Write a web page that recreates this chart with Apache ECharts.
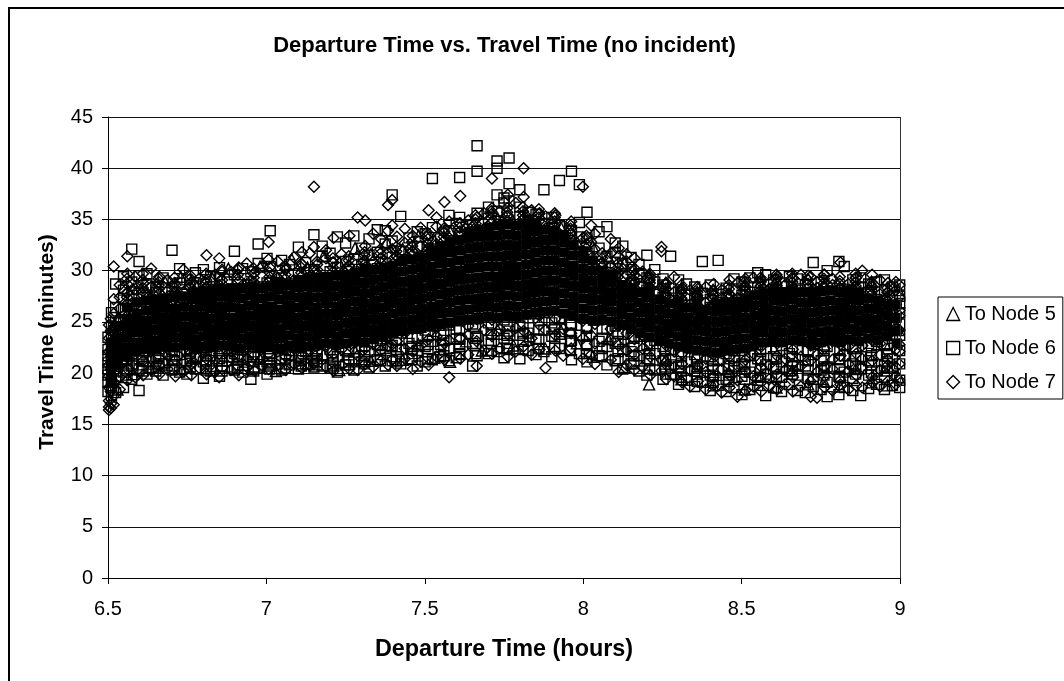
<!DOCTYPE html>
<html><head><meta charset="utf-8">
<script src="https://cdn.jsdelivr.net/npm/echarts@6/dist/echarts.min.js"></script>
<style>html,body{margin:0;padding:0;background:#fff;overflow:hidden}#c{width:1064px;height:681px}</style>
</head><body><div id="c"></div>
<script>
const seriesNames = ["To Node 5","To Node 6","To Node 7"];
const xTicks = {min:6.5,max:9,step:0.5};
const yTicks = {min:0,max:45,step:5};
// columns: [departure hour, [travel minutes]]
const node5 = [
[6.53,[18.4,21.2,23.6,25.3]],[6.58,[19.9,22.7,26.1,28.2]],[6.63,[20.6,24.4,27.3]],[6.68,[21.1,25.8,28.9]],[6.73,[20.4,23.3,29.4]],
[6.78,[21.7,26.2,28.4]],[6.83,[20.7,24.9,29.2]],[6.88,[22.3,27.1,30.2]],[6.93,[20.8,25.4,28.7]],[6.98,[21.4,26.8,30.4]],
[7.03,[20.2,24.3,29.6]],[7.08,[22.6,27.7,31.1]],[7.13,[20.9,25.2,30.3]],[7.18,[21.8,28.1,31.4]],[7.23,[20.3,26.4,30.8]],
[7.28,[22.1,28.6,32.2]],[7.33,[21.2,25.7,31.6]],[7.38,[23.4,29.2,32.8]],[7.43,[21.3,27.4,32.1]],[7.48,[22.8,30.3,33.4]],
[7.53,[21.5,28.2,32.9]],[7.58,[21.1,29.7,33.8]],[7.63,[23.1,30.9,34.4]],[7.68,[22.2,28.8,33.6]],[7.73,[24.2,31.6,35.1]],
[7.78,[22.7,29.4,34.7]],[7.83,[23.6,31.2,34.9]],[7.88,[22.4,28.3,33.7]],[7.93,[24.1,30.6,34.2]],[7.98,[22.9,27.9,32.8]],
[8.03,[21.6,28.7,32.4]],[8.08,[23.3,26.4,31.3]],[8.13,[20.6,27.2,30.7]],[8.208,[18.9,24.6,29.4]],[8.26,[21.3,26.2,28.8]],
[8.31,[19.4,24.1,28.3]],[8.36,[20.7,25.4,27.9]],[8.41,[18.8,23.2,28.1]],[8.46,[20.1,24.7,27.6]],[8.51,[18.4,22.9,28.7]],
[8.56,[19.7,25.1,28.9]],[8.61,[18.6,23.8,29.1]],[8.66,[20.3,24.4,28.2]],[8.71,[18.9,26.3,29.2]],[8.76,[19.2,22.8,28.6]],
[8.81,[18.7,24.9,28.4]],[8.86,[20.4,23.7,27.8]],[8.91,[19.1,25.3,28.9]],[8.96,[18.8,22.4,27.4]],[8.995,[19.6,24.2,28.1]]
];
const node6 = [
[6.500,[18.2,19.1,20.4,21.7,22.3,23.5,19.8,21.0]],
[6.511,[17.8,19.4,20.9,22.1,23.8,24.6,25.9,21.5,18.6]],
[6.524,[18.1,19.7,21.3,22.7,24.2,25.1,26.4,28.7,20.2,23.3]],
[6.549,[18.6,20.1,21.2,22.6,23.7,24.9,26.2,27.3,28.1,29.4]],
[6.575,[19.4,20.7,21.9,22.8,24.1,25.2,26.1,27.6,28.9,32.1]],
[6.598,[18.3,20.3,21.4,23.2,24.5,25.3,26.7,27.8,29.5,30.9]],
[6.623,[19.9,21.1,22.4,23.6,24.2,25.6,26.3,27.4,28.6,29.7]],
[6.651,[20.2,21.6,22.2,23.3,24.7,25.1,26.2,27.9,28.4]],
[6.674,[19.8,20.9,22.7,23.9,24.3,25.5,26.8,27.2,29.3]],
[6.702,[20.3,21.3,22.1,23.4,24.6,25.2,26.1,27.5,28.3,32.0]],
[6.726,[20.1,21.8,22.9,23.7,24.1,25.7,26.4,27.1,28.8,30.2]],
[6.749,[19.9,21.2,22.3,23.2,24.8,25.3,26.6,27.7,29.1]],
[6.776,[20.4,21.5,22.6,23.8,24.2,25.4,26.9,27.3,28.5,29.8]],
[6.801,[19.5,21.1,22.5,23.1,24.7,25.9,26.2,27.6,28.7,30.1]],
[6.824,[20.2,21.7,22.2,23.6,24.4,25.1,26.5,27.9,29.4]],
[6.852,[19.7,21.4,22.8,23.3,24.9,25.6,26.3,28.1,29.2,30.3]],
[6.876,[20.6,21.2,22.4,23.9,24.5,25.2,26.7,27.4,28.9]],
[6.899,[20.3,21.9,22.7,23.5,24.3,25.8,26.1,27.8,29.6,31.9]],
[6.925,[20.1,21.3,22.3,23.7,24.6,25.4,26.8,28.2,30.2]],
[6.951,[19.4,21.6,22.9,23.2,24.1,25.7,26.4,27.3,28.6,29.9]],
[6.974,[20.5,21.8,22.5,23.8,24.8,25.3,26.9,28.4,30.7,32.6]],
[7.002,[19.9,21.1,22.6,23.4,24.4,25.9,26.2,27.6,28.8,31.2]],
[7.012,[20.7,21.9,23.1,24.7,25.5,26.6,27.2,28.3,30.4,33.9]],
[7.048,[20.3,21.4,22.8,23.6,24.9,25.1,26.7,27.9,29.3,31.0]],
[7.073,[20.8,21.7,22.2,23.9,24.2,25.6,26.3,27.4,28.7,30.6]],
[7.101,[20.4,21.5,23.2,24.5,25.8,26.9,27.1,28.1,29.7,32.3]],
[7.124,[20.9,22.1,23.3,24.3,25.2,26.5,27.7,28.9,30.8]],
[7.150,[20.6,21.2,22.7,23.8,24.6,25.4,26.8,27.3,28.5,30.1,33.5]],
[7.176,[20.7,21.8,23.4,24.1,25.7,26.2,27.6,29.2,31.4,32.4]],
[7.201,[20.5,22.3,23.6,24.8,25.3,26.6,27.8,28.4,29.9,31.7]],
[7.224,[20.1,21.6,22.9,24.4,25.9,26.1,27.2,28.8,30.3,33.3]],
[7.250,[20.8,22.2,23.1,24.2,25.5,26.7,27.5,28.6,30.9,32.7]],
[7.276,[20.3,21.4,23.7,24.9,25.1,26.4,27.9,29.4,31.1,33.4]],
[7.301,[21.1,22.6,23.3,24.7,25.6,26.8,28.2,29.7,30.6,32.2]],
[7.324,[20.6,22.1,23.8,24.5,25.4,27.1,28.3,29.1,31.5,33.1]],
[7.350,[21.3,22.8,24.1,25.2,26.3,27.6,28.7,30.2,31.8,34.0]],
[7.375,[20.7,22.4,23.6,24.6,25.8,26.9,28.1,29.5,30.7,32.6,33.9]],
[7.397,[21.2,22.7,24.3,25.3,26.2,27.4,28.8,29.8,31.3,32.9,37.4]],
[7.424,[20.9,22.3,23.9,25.1,26.6,27.8,29.2,30.1,31.9,35.3]],
[7.450,[21.4,22.9,24.4,25.7,26.4,27.2,28.6,30.4,31.6,33.2]],
[7.476,[20.7,22.2,23.4,24.8,25.9,27.3,28.4,29.6,30.8,32.3,33.8]],
[7.501,[21.1,22.6,24.2,25.4,26.7,27.7,29.1,30.3,31.4,33.6]],
[7.524,[21.3,23.1,24.6,25.6,26.1,28.2,29.4,30.9,32.1,34.2,39.0]],
[7.550,[21.6,22.8,23.7,25.2,26.8,27.9,28.9,30.6,31.7,33.1]],
[7.576,[21.2,22.4,24.7,25.8,27.1,28.3,29.7,31.2,32.4,33.9,35.4]],
[7.599,[21.5,23.3,24.3,26.2,27.6,28.7,29.9,30.7,32.6,34.6]],
[7.610,[21.8,23.4,25.1,26.6,27.4,29.3,30.2,31.6,33.3,35.2,39.1]],
[7.651,[20.7,22.9,24.8,26.1,27.8,28.6,30.4,31.1,32.8,34.4]],
[7.665,[21.7,23.6,25.3,26.9,28.1,29.6,30.8,32.2,33.7,35.6,39.7,42.2]],
[7.701,[21.9,23.2,24.9,26.4,27.7,29.2,30.1,31.8,33.4,35.1,36.2]],
[7.728,[22.1,23.8,25.6,27.2,28.4,29.8,31.3,32.7,34.1,35.8,37.4,40.0,40.7]],
[7.750,[21.5,23.4,25.2,26.7,28.8,30.3,31.9,33.2,34.7,36.6,37.1]],
[7.766,[22.3,24.1,25.7,27.4,28.9,30.6,31.4,32.9,34.3,36.8,38.5,41.0]],
[7.800,[21.4,23.7,24.6,26.3,28.2,29.7,31.2,32.4,33.8,35.3,36.2,37.9]],
[7.826,[22.2,23.9,25.4,27.1,28.6,30.1,31.7,33.6,34.9,35.7]],
[7.851,[21.8,23.3,25.8,26.8,28.3,29.4,30.9,32.3,34.2,35.5]],
[7.876,[22.1,24.2,25.9,27.6,29.1,30.7,32.1,33.4,34.6,37.9]],
[7.901,[21.6,23.6,24.9,26.5,28.7,29.9,31.4,32.8,34.1,35.2]],
[7.925,[22.4,23.8,25.3,27.3,28.4,30.2,31.6,33.1,34.4,38.8]],
[7.963,[21.3,23.2,24.7,26.9,28.1,29.6,30.8,32.6,33.9,39.7]],
[7.988,[21.9,23.7,25.6,27.7,29.3,30.4,31.9,33.3,34.7,38.4]],
[8.012,[21.1,22.8,24.4,26.2,27.9,29.2,30.3,31.7,33.2,35.7]],
[8.050,[21.7,23.1,25.2,26.6,27.4,28.9,30.6,32.2,33.8]],
[8.075,[20.8,22.6,24.3,25.8,27.2,28.6,29.8,31.4,34.3]],
[8.101,[21.2,22.9,24.6,26.4,27.8,29.1,30.2,31.8,32.7]],
[8.125,[20.4,22.3,23.8,25.1,26.7,28.2,29.4,30.7,32.4]],
[8.151,[20.9,22.1,23.4,25.6,26.3,27.6,28.8,30.1,31.3]],
[8.176,[20.2,21.7,23.6,24.8,26.2,27.3,28.4,29.7,30.6]],
[8.201,[19.8,21.4,22.8,24.2,25.4,26.9,28.1,29.3,31.5]],
[8.226,[20.3,21.9,23.2,24.7,25.9,26.4,27.7,28.9,30.1]],
[8.252,[19.4,21.2,22.6,23.9,25.3,26.7,27.4,28.6,29.2]],
[8.276,[19.9,20.8,22.3,24.4,25.1,26.2,27.1,28.3,31.4]],
[8.301,[18.9,20.6,22.1,23.7,24.8,25.6,26.8,27.9,29.1]],
[8.326,[19.3,21.1,22.7,23.4,24.6,25.9,26.3,27.6,28.7]],
[8.352,[18.7,20.2,21.8,23.1,24.3,25.2,26.6,27.3,28.4]],
[8.376,[19.1,20.7,22.4,23.6,24.9,25.7,26.1,27.8,30.9]],
[8.401,[18.3,19.8,21.6,22.9,24.1,25.4,26.4,27.2,28.6]],
[8.426,[18.8,20.3,21.3,23.3,24.7,25.1,26.9,27.7,31.0]],
[8.451,[18.2,19.4,21.9,22.6,24.4,25.8,26.2,27.4,28.3]],
[8.476,[18.6,20.6,21.2,23.8,24.2,25.3,26.7,28.1,29.2]],
[8.501,[17.9,19.7,20.9,22.2,23.9,24.8,26.3,27.6,28.9]],
[8.526,[18.4,20.1,21.7,23.2,24.6,25.6,26.1,27.9,29.3]],
[8.551,[18.8,19.3,21.4,22.8,23.7,25.2,26.5,27.2,28.4,29.8]],
[8.576,[17.8,19.9,20.8,22.4,24.3,25.9,26.8,27.7,29.6]],
[8.601,[18.6,20.4,21.6,23.1,24.9,25.4,26.2,28.2,29.1]],
[8.626,[18.2,19.6,21.1,22.7,23.6,25.1,26.6,27.3,28.8]],
[8.651,[18.9,20.2,21.9,23.4,24.5,25.7,26.9,27.8,29.4]],
[8.676,[18.3,19.8,20.7,22.3,24.1,25.3,26.4,28.1,29.2]],
[8.701,[18.1,20.7,21.3,23.7,24.8,25.8,26.3,27.4,28.6]],
[8.726,[18.7,19.4,21.8,22.9,24.2,25.5,26.7,27.9,30.8]],
[8.751,[18.4,20.3,21.2,23.3,24.6,25.2,26.1,27.6,28.9]],
[8.770,[17.7,19.1,20.6,22.6,23.9,25.6,26.8,28.3,30.0]],
[8.807,[17.9,19.7,21.4,23.2,24.4,25.9,26.5,27.3,30.9]],
[8.824,[18.6,20.1,21.7,22.8,24.7,25.3,26.2,28.2,30.4]],
[8.851,[18.3,19.5,20.9,22.4,23.8,25.1,26.9,27.7,29.1]],
[8.876,[17.8,20.4,21.6,23.6,24.3,25.7,26.4,28.4,29.3]],
[8.901,[18.5,19.8,21.2,22.9,24.9,25.4,26.6,27.9,28.7]],
[8.926,[18.9,20.2,21.8,23.1,24.2,25.8,26.1,27.2,28.9]],
[8.951,[18.4,19.6,20.7,22.7,23.9,25.2,26.7,28.1,29.1]],
[8.976,[18.8,20.6,21.4,23.4,24.6,25.6,26.3,27.6,28.4]],
[8.999,[18.6,19.3,20.9,22.2,23.7,24.8,25.9,26.8,27.5,28.6]]
];
const node7 = [
[6.503,[16.4,16.7,17.3,18.6,19.7,20.8,22.1,23.4,24.7]],
[6.509,[16.6,17.0,18.2,19.4,20.3,21.6,22.9,24.1,25.3]],
[6.518,[16.9,17.8,19.1,20.6,21.8,23.2,24.5,25.8,27.2,30.4]],
[6.537,[18.4,19.6,20.7,22.3,23.6,25.1,26.3,27.4,28.6]],
[6.561,[19.3,20.4,21.5,22.7,24.2,25.6,26.8,27.9,29.7,31.4]],
[6.586,[19.6,20.9,22.2,23.3,24.8,25.4,26.6,28.2,29.4]],
[6.611,[19.8,21.2,22.6,23.9,24.3,25.7,26.9,27.6,28.8]],
[6.636,[20.3,21.4,22.1,23.5,24.6,25.9,26.2,27.3,28.4,30.2]],
[6.662,[19.9,20.8,22.8,23.2,24.9,25.3,26.4,27.8,29.4]],
[6.688,[20.4,21.7,22.4,23.7,24.1,25.6,26.7,28.1,29.1]],
[6.713,[19.7,21.3,22.9,23.6,24.5,25.2,26.3,27.4,28.6]],
[6.738,[20.2,21.1,22.3,23.4,24.7,25.8,26.6,27.9,30.1]],
[6.763,[19.8,20.9,22.7,23.9,24.2,25.4,26.8,27.2,28.9]],
[6.788,[20.5,21.6,22.5,23.1,24.8,25.7,26.1,27.7,29.2]],
[6.811,[19.9,21.4,22.2,23.8,24.3,25.1,26.5,28.3,31.5]],
[6.838,[20.1,21.2,22.8,23.4,24.9,25.6,26.9,27.4,29.6]],
[6.851,[19.6,21.9,22.6,23.3,24.4,25.3,26.2,28.6,31.2]],
[6.888,[20.3,21.5,22.1,23.7,24.6,25.9,26.7,27.8,29.9]],
[6.913,[19.8,21.7,22.9,23.2,24.7,25.4,26.3,28.2,30.3]],
[6.938,[20.6,21.3,22.4,23.9,24.2,25.8,27.1,28.7,30.7]],
[6.963,[20.2,21.8,23.1,24.5,25.2,26.6,27.3,28.4,29.8]],
[6.988,[20.7,21.4,22.7,23.6,24.9,25.1,26.8,27.9,30.4]],
[7.007,[20.4,21.9,23.2,24.3,25.6,26.4,27.6,28.9,31.1,32.8]],
[7.036,[20.8,22.1,23.4,24.8,25.3,26.7,28.1,29.3,30.9]],
[7.061,[20.3,21.6,22.8,24.1,25.9,26.2,27.4,28.6,30.2]],
[7.087,[20.9,22.4,23.7,24.6,25.1,26.9,27.8,29.1,31.3]],
[7.112,[20.5,21.7,23.3,24.2,25.7,26.4,27.2,28.7,30.6,31.8]],
[7.137,[20.7,22.2,23.6,24.9,25.4,26.6,28.3,29.4,31.7]],
[7.150,[20.9,21.8,23.1,24.7,25.8,27.1,28.8,30.1,32.3,38.2]],
[7.188,[20.6,22.6,23.9,24.3,25.6,26.8,27.6,29.2,31.2,32.0]],
[7.212,[20.2,21.9,23.4,24.8,25.3,26.3,27.9,28.9,30.8,33.2]],
[7.237,[20.8,22.3,23.8,24.4,25.9,27.2,28.4,29.7,31.6]],
[7.262,[20.4,22.7,24.1,25.2,26.6,27.7,28.6,30.4,33.4]],
[7.288,[20.3,21.7,23.2,24.7,25.7,26.9,28.2,29.9,31.4,35.2]],
[7.312,[20.9,22.4,23.9,24.6,26.1,27.3,28.8,30.3,32.4,34.9]],
[7.337,[20.6,22.9,24.2,25.4,26.4,27.8,29.3,30.9,33.6]],
[7.362,[21.2,22.2,23.7,25.1,26.7,28.4,29.6,31.2,33.1]],
[7.384,[20.8,22.6,24.4,25.8,27.1,28.1,29.9,31.7,33.9,36.4]],
[7.397,[21.3,22.8,24.6,25.6,26.9,28.6,30.2,32.1,34.4,36.9]],
[7.412,[20.7,23.1,24.8,26.2,27.6,28.9,30.6,31.4,33.3]],
[7.437,[21.4,22.4,23.9,25.3,26.8,28.3,29.4,31.1,32.7,34.1]],
[7.462,[20.4,22.1,24.3,25.9,27.4,28.7,30.1,31.9,33.4]],
[7.487,[21.1,22.7,24.7,26.3,27.2,29.2,30.7,32.4,34.2]],
[7.512,[20.8,23.3,25.1,26.7,27.9,29.6,30.4,31.8,33.6,35.9]],
[7.537,[21.6,23.6,24.4,26.1,28.2,29.1,31.3,32.6,34.3,35.2]],
[7.562,[21.3,22.9,24.9,26.4,27.7,29.8,30.9,32.2,33.8,36.7]],
[7.577,[19.6,23.2,25.4,26.9,28.4,30.1,31.4,33.2,34.8]],
[7.612,[21.4,23.4,25.6,27.3,28.8,29.7,31.6,32.9,34.6,37.3]],
[7.637,[21.8,23.7,24.6,26.6,28.1,30.3,31.7,33.1,34.9]],
[7.664,[20.7,23.1,25.3,27.1,28.6,30.6,32.1,33.7,35.2]],
[7.687,[22.2,24.2,25.8,27.6,29.2,30.8,32.4,34.1,35.6]],
[7.712,[21.9,23.6,25.2,26.8,28.9,30.4,31.9,33.4,34.7,36.1,39.0]],
[7.737,[22.4,24.3,26.1,27.4,29.4,31.1,32.6,34.4,35.8]],
[7.762,[21.6,23.8,25.7,27.9,29.1,30.7,32.3,33.9,35.4,37.4]],
[7.787,[22.1,24.4,26.4,28.2,29.7,31.4,32.8,34.2,36.6]],
[7.812,[22.6,24.1,25.9,27.7,28.6,30.2,31.8,33.6,35.1,37.2,40.0]],
[7.837,[21.8,23.4,26.2,28.4,29.9,31.6,33.1,34.6,35.9]],
[7.862,[22.3,24.7,25.6,27.3,28.8,30.6,32.2,33.8,35.6]],
[7.881,[20.5,24.2,26.6,28.1,29.6,31.2,32.7,34.1,35.3]],
[7.912,[22.2,23.7,25.3,27.8,29.4,30.9,31.7,33.4,35.4]],
[7.937,[21.7,24.3,26.3,28.3,29.2,30.6,32.4,34.3]],
[7.962,[22.4,23.9,25.7,27.2,28.9,30.3,31.9,33.7,34.8]],
[7.999,[21.4,23.4,25.1,26.9,28.6,30.1,31.6,33.2,38.2]],
[8.025,[21.8,23.7,25.4,27.4,28.2,29.7,31.2,32.8,34.4]],
[8.037,[20.9,22.9,24.8,26.6,27.7,29.4,30.8,32.1,33.6]],
[8.087,[21.3,23.2,24.3,26.2,28.1,29.2,30.4,31.7,33.1]],
[8.112,[20.1,22.7,24.6,25.7,27.3,28.7,29.8,31.4,32.2]],
[8.137,[20.8,22.2,23.9,25.3,26.8,28.4,29.6,30.9,31.6]],
[8.162,[20.3,21.8,23.3,24.9,26.4,27.7,28.9,30.2,31.2]],
[8.187,[20.6,22.4,23.7,25.2,26.1,27.4,28.6,29.9]],
[8.212,[19.8,21.6,22.9,24.6,25.6,26.7,28.2,29.4]],
[8.247,[20.2,21.3,23.2,24.3,25.9,27.2,28.4,32.3,31.9]],
[8.262,[19.4,21.1,22.7,23.8,25.4,26.6,27.6,28.8]],
[8.287,[19.7,20.6,22.1,23.4,24.9,26.3,27.9,29.4]],
[8.312,[19.1,20.9,21.9,23.6,24.7,25.8,27.1,28.3]],
[8.337,[18.7,20.3,22.4,23.2,24.4,25.3,26.7,28.1]],
[8.362,[19.2,20.8,21.7,23.9,24.8,26.2,27.3,28.2]],
[8.387,[18.4,20.1,21.4,22.7,24.2,25.6,26.9,28.4]],
[8.412,[18.9,19.6,21.8,23.3,24.6,25.2,26.6,27.6,28.7]],
[8.437,[18.1,20.4,21.2,22.9,23.7,25.9,26.3,28.1]],
[8.462,[18.6,19.8,21.6,23.1,24.3,25.4,26.8,27.7,29.1]],
[8.487,[17.7,19.3,20.7,22.4,24.1,25.7,26.2,27.3,28.8]],
[8.512,[18.3,20.2,21.3,22.8,23.9,25.3,26.6,28.4,29.2]],
[8.537,[18.7,19.7,21.9,23.4,24.7,25.1,26.9,27.4,29.3]],
[8.562,[18.2,20.6,21.1,22.6,24.4,25.8,26.4,27.9,29.1]],
[8.587,[18.8,19.4,20.8,23.2,24.2,25.6,26.1,28.2,28.8]],
[8.612,[18.4,19.9,21.7,22.9,24.8,25.2,26.7,27.7,29.4]],
[8.637,[18.9,20.3,21.4,23.7,24.3,25.9,26.3,27.3,28.6]],
[8.662,[18.2,19.6,20.9,22.3,23.8,25.4,26.8,28.1,29.2]],
[8.687,[18.7,20.7,21.6,23.3,24.6,25.1,26.6,27.6,29.6]],
[8.718,[17.7,19.2,21.2,22.7,24.1,25.7,26.2,27.9,29.4]],
[8.738,[17.6,20.1,21.8,23.6,24.9,25.3,26.9,28.3,28.9]],
[8.762,[18.6,19.7,20.6,22.4,23.9,25.8,26.4,27.4,29.6]],
[8.787,[18.3,20.4,21.3,23.1,24.4,25.6,26.7,28.6,29.2]],
[8.812,[18.9,19.3,21.7,22.8,24.7,25.2,26.1,27.8,30.8]],
[8.837,[18.4,20.2,20.9,22.6,23.6,25.9,26.6,27.3,28.7]],
[8.862,[18.8,19.8,21.9,23.4,24.2,25.4,26.8,28.2,29.3]],
[8.881,[18.6,20.6,21.4,22.7,24.8,25.1,26.3,27.6,30.0]],
[8.912,[19.1,19.6,21.2,23.2,24.3,25.7,26.9,28.4,29.6]],
[8.937,[18.7,20.3,21.8,22.9,24.6,25.3,26.4,27.7,29.1]],
[8.962,[19.2,20.8,21.3,23.7,23.9,25.8,26.2,27.9,28.8]],
[8.987,[18.9,19.7,20.6,22.3,24.4,25.2,26.7,28.1,28.9]],
[8.998,[19.3,20.9,22.1,22.8,24.2,25.6,26.1,27.4,28.6]]
];
// extra outlined markers in the busy fringes above and below the core
const fringeNode6 = [
[6.56,[20.9,21.4,20.3,19.8]],[6.61,[21.6,20.8,21.2,20.2]],[6.66,[21.7,20.9,21.4,20.6]],[6.71,[21.8,20.7,21.2,20.4]],[6.76,[21.9,21.1,20.6,21.4]],
[6.81,[21.7,20.9,21.3,20.3]],[6.86,[21.9,21.2,20.7,20.2]],[6.91,[21.6,20.8,21.3,20.5]],[6.96,[21.8,21.1,20.6,20.2]],[7.01,[21.7,21.0,21.4,20.4]],
[7.06,[21.9,20.9,21.3,20.5]],[7.11,[21.6,21.2,20.7,20.9]],[7.16,[21.9,21.1,20.8,21.4]],[7.21,[22.0,21.3,20.7,20.9]],[7.26,[22.2,21.4,20.8,21.1]],
[7.31,[22.1,21.3,21.7,20.9]],[7.36,[22.7,21.8,21.2,22.2]],[7.41,[23.2,22.3,21.6,21.1]],[7.46,[23.4,22.6,21.9,21.3]],[7.51,[23.7,22.8,22.1,21.4]],
[7.56,[23.9,23.2,22.3,21.7]],[7.61,[24.2,23.3,22.6,21.9]],[7.66,[24.5,23.4,22.7,21.9]],[7.71,[24.7,23.8,22.9,22.2]],[7.76,[24.6,23.7,22.9,22.4]],
[7.81,[24.8,23.9,23.1,22.3]],[7.86,[25.1,24.2,23.3,22.4]],[7.91,[25.2,24.3,23.4,22.6]],[7.96,[24.8,23.9,23.1,22.2]],[8.01,[24.4,23.6,22.7,21.9]],
[8.06,[24.3,23.4,22.4,21.6]],[8.11,[23.9,23.1,22.1,21.4]],[8.16,[23.4,22.6,21.7,20.9]],[8.21,[22.7,21.9,21.2,20.4]],[8.26,[22.2,21.4,20.6,19.9]],
[8.31,[21.7,20.9,20.2,19.6]],[8.36,[21.4,20.6,19.9,19.2]],[8.41,[21.2,20.4,19.7,19.1]],[8.46,[21.4,20.7,19.8,19.2]],[8.51,[21.6,20.8,20.1,19.4]],
[8.56,[22.1,21.3,20.4,19.6]],[8.61,[22.2,21.4,20.6,19.7]],[8.66,[22.4,21.6,20.7,19.9]],[8.71,[22.1,21.2,20.3,19.5]],[8.76,[22.2,21.4,20.6,19.8]],
[8.81,[22.2,21.3,20.4,19.6]],[8.86,[22.4,21.6,20.7,19.9]],[8.91,[22.5,21.7,20.8,20.1]],[8.96,[22.8,21.9,21.1,20.2]]
];
const fringeNode7 = [
[6.56,[27.8,28.7,27.4,29.2]],[6.61,[28.3,29.1,28.0,29.7]],[6.66,[28.2,29.2,28.6,28.9]],[6.71,[28.3,29.3,28.8,28.0]],[6.76,[28.7,29.5,28.4,29.2]],
[6.81,[28.8,29.7,28.4,29.1]],[6.86,[29.1,29.9,28.7,30.1]],[6.91,[29.2,30.1,28.9,29.6]],[6.96,[29.3,30.2,28.9,29.7]],[7.01,[29.4,30.3,29.1,29.8]],
[7.06,[29.6,30.4,29.2,30.1]],[7.11,[29.8,30.7,29.4,30.3]],[7.16,[30.1,30.9,29.7,30.6]],[7.21,[30.3,31.2,29.9,30.8]],[7.26,[30.5,31.4,30.1,31.0]],
[7.31,[31.0,31.8,30.6,31.5]],[7.36,[31.2,32.1,30.8,31.7]],[7.41,[31.4,32.3,31.0,31.9]],[7.46,[31.9,32.8,31.5,32.4]],[7.51,[32.6,33.4,32.2,33.1]],
[7.56,[33.3,34.1,32.9,33.7]],[7.61,[33.8,34.6,33.4,34.2]],[7.66,[34.6,35.4,34.2,35.0]],[7.71,[35.1,35.8,34.7,35.5]],[7.76,[35.3,36.1,34.9,35.7]],
[7.81,[35.4,36.2,35.0,35.8]],[7.86,[35.2,36.0,34.8,35.5]],[7.91,[34.8,35.6,34.4,35.2]],[7.96,[33.6,34.4,33.2,34.1]],[8.01,[32.6,33.4,32.2,33.1]],
[8.06,[30.8,31.7,30.4,31.2]],[8.11,[29.8,30.7,29.4,30.3]],[8.16,[29.1,30.0,28.7,29.5]],[8.21,[28.8,29.7,28.4,29.1]],[8.26,[27.8,28.7,27.4,28.2]],
[8.31,[27.7,28.6,27.3,28.1]],[8.36,[27.6,28.4,27.2,27.9]],[8.41,[27.2,28.1,26.8,27.6]],[8.46,[27.7,28.6,27.3,28.2]],[8.51,[28.1,28.9,27.7,28.5]],
[8.56,[28.5,29.3,28.1,28.9]],[8.61,[28.8,29.6,28.4,29.2]],[8.66,[28.9,29.7,28.5,29.3]],[8.71,[28.7,29.5,28.3,29.1]],[8.76,[28.8,29.6,28.4,29.2]],
[8.81,[28.7,29.4,28.3,29.0]],[8.86,[28.9,29.7,28.5,29.3]],[8.91,[28.1,28.9,27.7,28.5]],[8.96,[27.4,28.3,27.0,27.9]]
];
// heavily overplotted core: so many markers overlap here that they read as solid ink
const coreNode6 = [
[6.51,[19.2,20.1,21.0,22.0,23.0]],[6.53,[20.8,21.7,22.6,23.5,24.6]],[6.56,[21.6,22.5,23.5,24.4,25.3,26.4]],
[6.59,[22.1,23.0,24.0,24.9,25.8,26.9]],[6.62,[22.4,23.3,24.2,25.1,26.1,27.1]],[6.65,[22.3,23.2,24.2,25.2,26.2,27.2]],
[6.68,[22.6,23.5,24.4,25.4,26.4,27.3]],[6.71,[22.5,23.5,24.5,25.4,26.3,27.4]],[6.74,[22.7,23.6,24.5,25.5,26.5,27.5]],
[6.77,[22.4,23.3,24.3,25.3,26.2,27.2,27.9]],[6.80,[22.6,23.6,24.6,25.5,26.5,27.4,28.0]],[6.83,[22.5,23.4,24.3,25.3,26.3,27.2,28.1]],
[6.86,[22.7,23.7,24.6,25.6,26.5,27.5,28.2]],[6.89,[22.6,23.5,24.5,25.4,26.4,27.4,28.3]],[6.92,[22.4,23.4,24.4,25.4,26.3,27.3,28.3]],
[6.95,[22.7,23.6,24.6,25.6,26.6,27.6,28.4]],[6.98,[22.5,23.5,24.4,25.3,26.3,27.3,28.3]],[7.01,[22.6,23.6,24.5,25.5,26.5,27.5,28.5]],
[7.04,[22.4,23.4,24.3,25.3,26.2,27.2,28.2,28.9]],[7.07,[22.7,23.7,24.7,25.6,26.6,27.6,28.6]],[7.10,[22.5,23.4,24.4,25.4,26.4,27.4,28.4,29.1]],
[7.13,[22.6,23.6,24.6,25.6,26.6,27.5,28.5,29.2]],[7.16,[22.8,23.7,24.6,25.5,26.4,27.4,28.4,29.3]],[7.19,[22.9,23.9,24.8,25.8,26.8,27.7,28.6,29.4]],
[7.22,[22.7,23.6,24.6,25.6,26.5,27.5,28.5,29.5]],[7.25,[22.9,23.9,24.9,25.9,26.8,27.8,28.7,29.6]],[7.28,[23.1,24.0,25.0,26.0,27.0,28.0,29.0,29.8]],
[7.31,[23.0,24.0,24.9,25.8,26.8,27.8,28.8,29.8,30.2]],[7.34,[23.3,24.2,25.2,26.2,27.1,28.1,29.1,30.1]],[7.37,[23.6,24.5,25.4,26.4,27.4,28.4,29.4,30.3]],
[7.40,[23.9,24.8,25.8,26.8,27.7,28.7,29.7,30.5]],[7.43,[24.1,25.0,26.0,26.9,27.9,28.9,29.9,30.9]],[7.46,[24.3,25.2,26.2,27.2,28.2,29.1,30.1,31.1]],
[7.49,[24.4,25.4,26.3,27.3,28.3,29.3,30.3,31.3]],[7.52,[24.6,25.6,26.5,27.5,28.5,29.4,30.4,31.4,32.0]],[7.55,[24.8,25.8,26.7,27.7,28.7,29.7,30.7,31.6,32.4]],
[7.58,[24.9,25.9,26.9,27.9,28.9,29.8,30.8,31.8,32.7]],[7.61,[25.1,26.1,27.1,28.1,29.1,30.0,31.0,32.0,33.0]],[7.64,[25.2,26.2,27.2,28.2,29.2,30.2,31.2,32.2,33.2,33.8]],
[7.67,[25.4,26.4,27.3,28.3,29.3,30.3,31.3,32.3,33.3,34.0]],[7.70,[25.5,26.5,27.4,28.4,29.4,30.4,31.4,32.4,33.4,34.2]],[7.73,[25.4,26.4,27.4,28.4,29.4,30.4,31.4,32.4,33.4,34.4]],
[7.76,[25.6,26.6,27.6,28.6,29.5,30.5,31.5,32.5,33.5,34.5]],[7.79,[25.5,26.5,27.5,28.5,29.5,30.4,31.4,32.4,33.4,34.4]],[7.82,[25.7,26.7,27.6,28.6,29.6,30.6,31.6,32.6,33.6,34.6]],
[7.85,[25.9,26.9,27.9,28.8,29.8,30.8,31.8,32.8,33.8,34.5]],[7.88,[26.0,27.0,28.0,29.0,30.0,31.0,32.0,33.0,34.0]],[7.91,[26.1,27.1,28.0,29.0,30.0,31.0,32.0,33.0,33.9]],
[7.94,[25.8,26.8,27.8,28.8,29.8,30.8,31.8,32.8,33.5]],[7.97,[25.6,26.6,27.5,28.5,29.5,30.5,31.5,32.5]],[8.00,[25.3,26.3,27.3,28.3,29.2,30.2,31.2,31.9]],
[8.03,[25.1,26.1,27.1,28.0,29.0,30.0,31.0]],[8.06,[25.2,26.2,27.2,28.2,29.1,30.0]],[8.09,[25.0,26.0,27.0,27.9,28.9,29.6]],
[8.12,[24.7,25.7,26.7,27.7,28.6]],[8.15,[24.4,25.4,26.4,27.4,28.3]],[8.18,[23.9,24.9,25.9,26.9,27.9]],
[8.21,[23.5,24.5,25.4,26.4,27.4,28.0]],[8.24,[23.2,24.2,25.2,26.2,27.2]],[8.27,[22.9,23.9,24.8,25.8,26.8]],
[8.30,[22.6,23.6,24.6,25.6,26.6,27.0]],[8.33,[22.4,23.4,24.4,25.4,26.4]],[8.36,[22.2,23.2,24.2,25.1,26.1,26.8]],
[8.39,[22.1,23.1,24.1,25.1,26.1]],[8.42,[22.0,23.0,24.0,25.0,26.0,26.7]],[8.45,[22.2,23.1,24.1,25.1,26.1,26.9]],
[8.48,[22.3,23.3,24.3,25.3,26.2,27.0]],[8.51,[22.4,23.4,24.4,25.4,26.4,27.3]],[8.54,[22.7,23.7,24.6,25.6,26.6,27.6]],
[8.57,[23.0,24.0,24.9,25.9,26.9,27.8]],[8.60,[23.1,24.1,25.1,26.1,27.1,28.0]],[8.63,[23.0,24.0,25.0,26.0,27.0,27.9]],
[8.66,[23.2,24.2,25.2,26.2,27.2,28.1]],[8.69,[23.1,24.1,25.0,25.9,26.9,27.9]],[8.72,[22.9,23.9,24.9,25.9,26.9,27.9]],
[8.75,[23.0,24.0,25.0,26.0,27.0,28.0]],[8.78,[23.2,24.1,25.1,26.1,27.1,28.1]],[8.81,[23.0,23.9,24.9,25.9,26.9,27.9]],
[8.84,[23.3,24.3,25.3,26.2,27.2,28.1]],[8.87,[23.1,24.1,25.1,26.1,27.1,27.9]],[8.90,[23.4,24.4,25.3,26.3,27.3]],
[8.93,[23.2,24.2,25.2,26.2,27.1]],[8.96,[23.6,24.6,25.6,26.6]],[8.99,[22.9,24.1,25.4,26.7]]
];
const flat = cols => cols.flatMap(([x, ys]) => ys.map(y => [x, y]));
const black = "#000";
const mark = (name, symbol, size, cols, fill, border) => ({
  name, type: "scatter", symbol, symbolSize: size, clip: false, silent: true, progressive: 0, animation: false,
  itemStyle: { color: fill, borderColor: black, borderWidth: border, opacity: 1 },
  emphasis: { disabled: true }, data: flat(cols)
});
const hollow = "rgba(255,255,255,0)";
const chart = echarts.init(document.getElementById("c"), null, { renderer: "canvas" });
const font = "Liberation Sans, Arial, sans-serif";
chart.setOption({
  animation: false, backgroundColor: "#fff",
  title: { text: "Departure Time vs. Travel Time (no incident)", left: 499.5, top: 30, textAlign: "center",
    textStyle: { fontFamily: font, fontSize: 22, fontWeight: "bold", color: black } },
  legend: { orient: "vertical", left: 938, top: 297, width: 125, padding: [7, 7, 7, 8], itemGap: 14,
    itemWidth: 13, itemHeight: 13, borderColor: black, borderWidth: 1, selectedMode: false,
    textStyle: { fontFamily: font, fontSize: 20, color: black },
    data: [{ name: seriesNames[0], icon: "triangle" }, { name: seriesNames[1], icon: "rect" }, { name: seriesNames[2], icon: "diamond" }],
    itemStyle: { color: "#fff", borderColor: black, borderWidth: 1.3 } },
  grid: { left: 108, top: 117, width: 792, height: 461, show: false },
  xAxis: { type: "value", min: xTicks.min, max: xTicks.max, interval: xTicks.step, name: "Departure Time (hours)",
    nameLocation: "middle", nameGap: 60,
    nameTextStyle: { fontFamily: font, fontSize: 23.4, fontWeight: "bold", color: black },
    axisLine: { onZero: false, lineStyle: { color: black, width: 1 } },
    axisTick: { length: 6, inside: false, lineStyle: { color: black } },
    axisLabel: { fontFamily: font, fontSize: 20, color: black, margin: 21 },
    splitLine: { show: false } },
  yAxis: [{ type: "value", min: yTicks.min, max: yTicks.max, interval: yTicks.step, name: "Travel Time (minutes)",
    nameLocation: "middle", nameGap: 50,
    nameTextStyle: { fontFamily: font, fontSize: 21, fontWeight: "bold", color: black, padding: [0,0,0,11] },
    axisLine: { show: true, lineStyle: { color: black, width: 1 } },
    axisTick: { show: true, length: 6, lineStyle: { color: black } },
    axisLabel: { fontFamily: font, fontSize: 20, color: black, margin: 15 },
    splitLine: { show: true, lineStyle: { color: "#111", width: 1 } } }],
  graphic: [
    { type: "rect", silent: true, z: 100, shape: { x: 9, y: 8, width: 1200, height: 900 }, style: { fill: "none", stroke: black, lineWidth: 2 } },
    { type: "line", silent: true, z: 5, shape: { x1: 900.5, y1: 117, x2: 900.5, y2: 578 }, style: { stroke: "#333", lineWidth: 1 } }
  ],
  series: [
    mark(seriesNames[0], "triangle", 11, node5, hollow, 1.4),
    mark(seriesNames[1], "rect", 10, coreNode6, black, 0),
    mark(seriesNames[1], "rect", 10, node6, hollow, 1.4),
    mark(seriesNames[1], "rect", 10, fringeNode6, hollow, 1.4),
    mark(seriesNames[2], "diamond", 11, fringeNode7, hollow, 1.4),
    mark(seriesNames[2], "diamond", 11, node7, hollow, 1.4)
  ]
});
</script></body></html>
